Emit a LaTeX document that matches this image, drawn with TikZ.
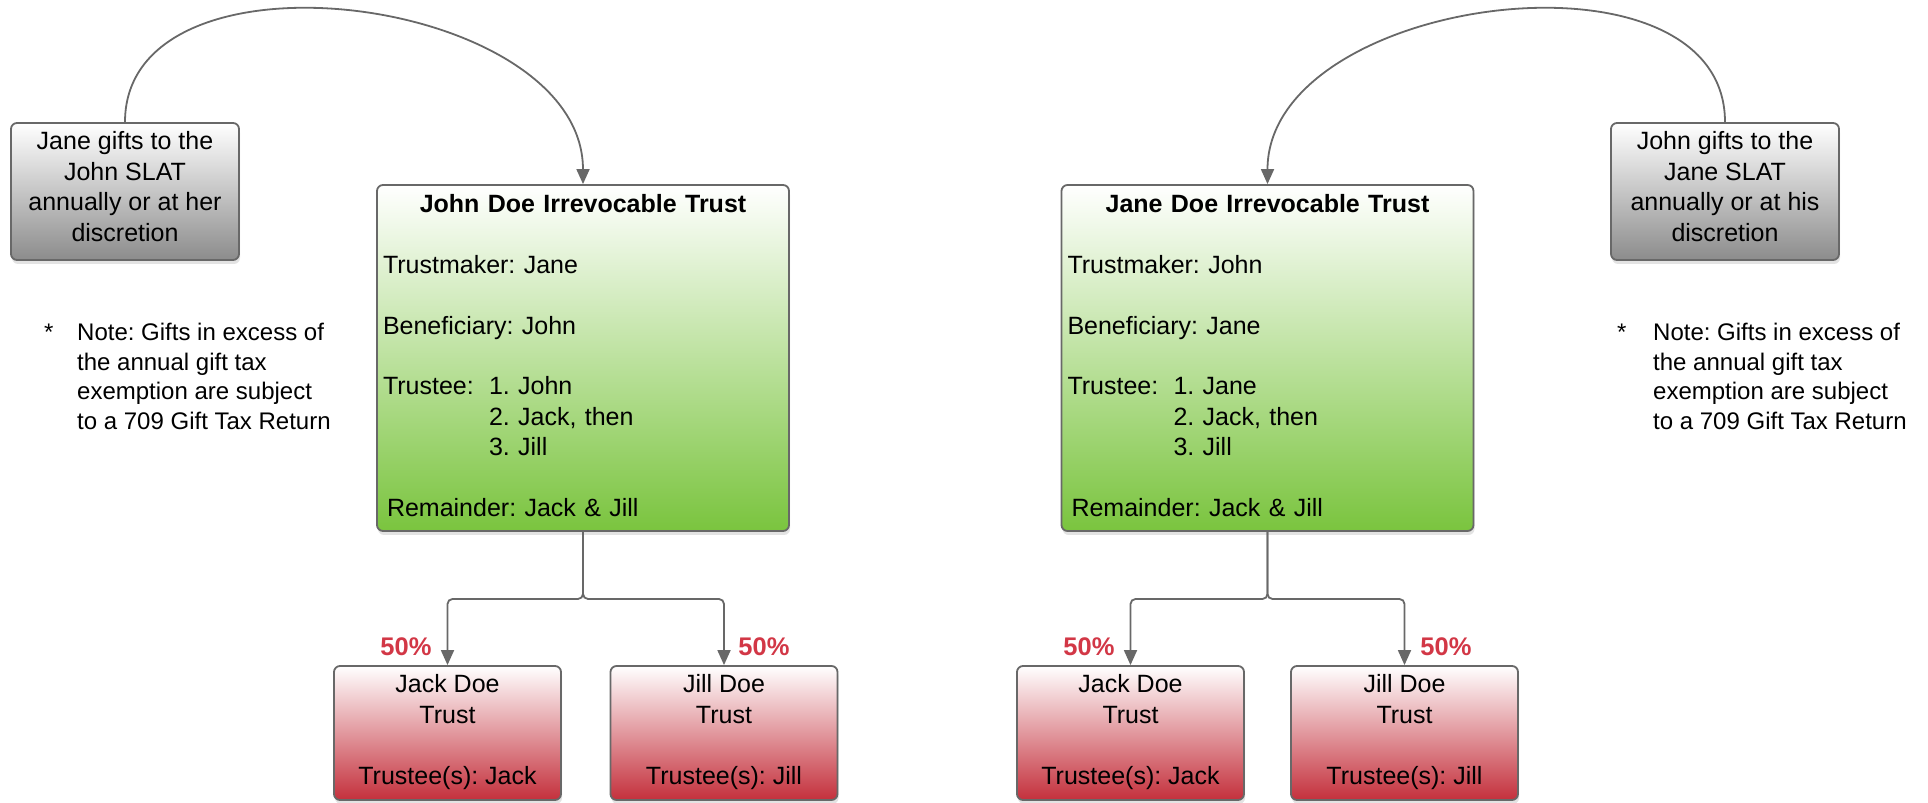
\documentclass[tikz,border=0pt]{standalone}
\usepackage{fontspec}
\setmainfont{Liberation Sans}
\usepackage{xcolor}
\usetikzlibrary{arrows.meta,shadows,calc}

\definecolor{linegray}{RGB}{104,104,104}
\definecolor{giftgray}{RGB}{140,140,140}
\definecolor{trustgreen}{RGB}{122,196,62}
\definecolor{childred}{RGB}{196,48,60}
\definecolor{pctred}{RGB}{210,55,70}

\begin{document}
\frenchspacing
\begin{tikzpicture}[x=1pt,y=1pt]
    \tikzset{box/.style = {draw=linegray,line width=1.8pt,rounded corners=6pt,top color=white,inner sep=0pt,align=center,font=\fontsize{25}{30.4}\selectfont,drop shadow={shadow xshift=1pt,shadow yshift=-4pt,opacity=0.22}}}
    \tikzset{gift/.style = {box,bottom color=giftgray,minimum width=228pt,minimum height=137pt,text depth=10pt}}
    \tikzset{trust/.style = {box,bottom color=trustgreen,minimum width=412pt,minimum height=346pt,text width=400pt,align=left}}
    \tikzset{child/.style = {box,bottom color=childred,minimum width=227pt,minimum height=134pt,text depth=7pt}}
    \tikzset{edge/.style = {draw=linegray,line width=1.8pt,rounded corners=5pt,-{Triangle[length=15pt,width=13pt]}}}
    \tikzset{pct/.style = {text=pctred,inner sep=0pt,font=\fontsize{25.5}{30}\selectfont\bfseries}}
    \tikzset{note/.style = {anchor=north west,inner sep=0pt,align=left,font=\fontsize{24}{29.5}\selectfont}}

    \useasboundingbox (0,0) rectangle (1928,803);

    % gifts
    \node[gift] (janegift) at (125,611.5) {Jane gifts to the\\John SLAT\\annually or at her\\discretion};
    \node[gift] (johngift) at (1725,611.5) {John gifts to the\\Jane SLAT\\annually or at his\\discretion};

    % notes
    \node[note] (janestar) at (44,479.6) {*};
    \node[note] (janenote) at (77,479.6) {Note: Gifts in excess of\\the annual gift tax\\exemption are subject\\to a 709 Gift Tax Return};
    \node[note] (johnstar) at (1617,479.6) {*};
    \node[note] (johnnote) at (1653,479.6) {Note: Gifts in excess of\\the annual gift tax\\exemption are subject\\to a 709 Gift Tax Return};

    % trusts
    \node[trust] (johntrust) at (583,445) {\makebox[400pt]{\bfseries John Doe Irrevocable Trust}\\[30.4pt]
      Trustmaker: Jane\\[30.4pt]
      Beneficiary: John\\[30.4pt]
      \makebox[106pt][l]{Trustee:}1. John\\
      \hspace*{106pt}2. Jack, then\\
      \hspace*{106pt}3. Jill\\[30.4pt]
      \hspace*{4pt}Remainder: Jack \& Jill\rule[-5pt]{0pt}{1pt}};
    \node[trust] (janetrust) at (1267.5,445) {\makebox[400pt]{\bfseries Jane Doe Irrevocable Trust}\\[30.4pt]
      Trustmaker: John\\[30.4pt]
      Beneficiary: Jane\\[30.4pt]
      \makebox[106pt][l]{Trustee:}1. Jane\\
      \hspace*{106pt}2. Jack, then\\
      \hspace*{106pt}3. Jill\\[30.4pt]
      \hspace*{4pt}Remainder: Jack \& Jill\rule[-5pt]{0pt}{1pt}};

    % children
    \node[child] (johnjack) at (447.5,70) {Jack Doe\\Trust\\[30.4pt]Trustee(s): Jack};
    \node[child] (johnjill) at (724,70) {Jill Doe\\Trust\\[30.4pt]Trustee(s): Jill};
    \node[child] (janejack) at (1130.5,70) {Jack Doe\\Trust\\[30.4pt]Trustee(s): Jack};
    \node[child] (janejill) at (1404.5,70) {Jill Doe\\Trust\\[30.4pt]Trustee(s): Jill};

    % shares
    \node[pct] (johnjackpct) at (406,156) {50\%};
    \node[pct] (johnjillpct) at (764,156) {50\%};
    \node[pct] (janejackpct) at (1089,156) {50\%};
    \node[pct] (janejillpct) at (1446,156) {50\%};

    % edges
    \draw[edge] (janegift.north) .. controls +(0,186) and +(0,189) .. (johntrust.north);
    \draw[edge] (johngift.north) .. controls +(0,186) and +(0,189) .. (janetrust.north);
    \coordinate (johnsplit) at (583,204);
    \coordinate (janesplit) at (1267.5,204);
    \foreach \y in {johnjack,johnjill} {\draw[edge] (johntrust.south) -- (johnsplit) -| (\y.north);}
    \foreach \y in {janejack,janejill} {\draw[edge] (janetrust.south) -- (janesplit) -| (\y.north);}

\end{tikzpicture}
\end{document}
